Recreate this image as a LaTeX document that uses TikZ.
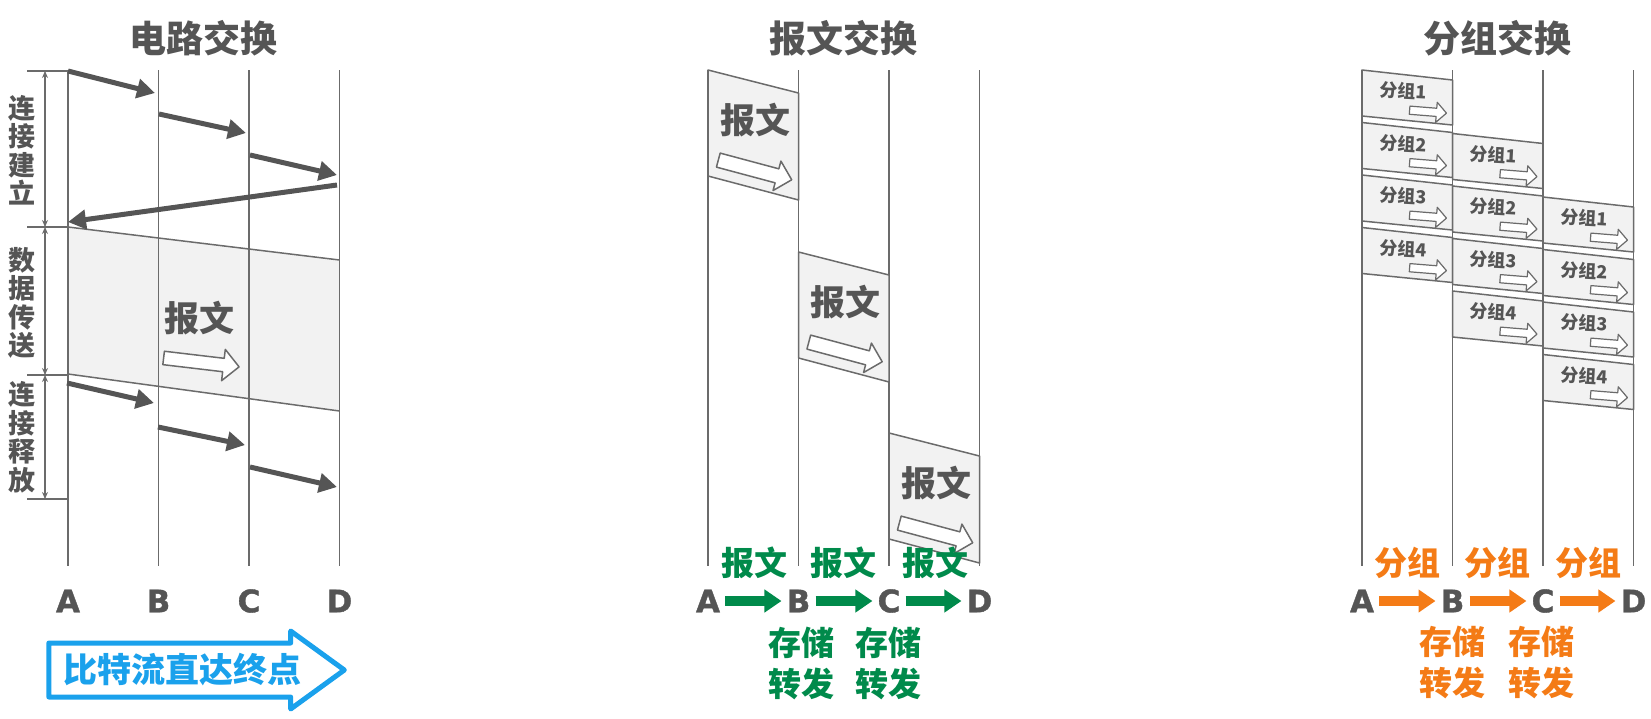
\documentclass[tikz,border=0pt]{standalone}
\usepackage{fontspec}
\setmainfont{Noto Sans CJK SC}
\newfontfamily\latinfont[BoldFeatures={FakeBold=1.2}]{DejaVu Sans}
\usetikzlibrary{arrows.meta,shapes.arrows}
\definecolor{lineGray}{HTML}{6B6B6B}
\definecolor{textGray}{HTML}{555555}
\definecolor{boxGray}{HTML}{F2F2F2}
\definecolor{storeGreen}{HTML}{008A4B}
\definecolor{packOrange}{HTML}{F47B16}
\definecolor{flowBlue}{HTML}{1AA1EC}

\begin{document}
\begin{tikzpicture}[x=1pt, y=-1pt, line join=round]
        \tikzstyle{wireLine} = [draw=lineGray, line width=1.5]
        \tikzstyle{titleText} = [font=\fontsize{37}{40}\selectfont\bfseries, text=textGray]
        \tikzstyle{stationText} = [font=\latinfont\fontsize{31}{31}\selectfont\bfseries, text=textGray, inner sep=5]
        \tikzstyle{sideText} = [font=\fontsize{27}{28.5}\selectfont\bfseries, text=textGray, align=center, inner sep=0]
        \tikzstyle{boxText} = [font=\fontsize{35}{40}\selectfont\bfseries, text=textGray]
        \tikzstyle{pktText} = [font=\fontsize{18}{20}\selectfont\bfseries, text=textGray, rotate=-3]
        \tikzstyle{greenText} = [font=\fontsize{33}{41}\selectfont\bfseries, text=storeGreen, align=center]
        \tikzstyle{orangeText} = [font=\fontsize{33}{41}\selectfont\bfseries, text=packOrange, align=center]
        \tikzstyle{sigArrow} = [draw=textGray, line width=5, -{Triangle[length=18pt,width=19pt]}]
        \tikzstyle{spanArrow} = [draw=lineGray, line width=1.3, {Stealth[length=7pt,width=6pt]}-{Stealth[length=7pt,width=6pt]}]
        \tikzstyle{greenArrow} = [draw=storeGreen, line width=10, -{Triangle[length=17pt,width=22pt]}]
        \tikzstyle{orangeArrow} = [draw=packOrange, line width=10, -{Triangle[length=17pt,width=22pt]}]
        \tikzstyle{hollowArrow} = [shape=single arrow, draw=lineGray, fill=white, line width=1.5, inner xsep=0, minimum width=0]
        \tikzstyle{msgBox} = [draw=lineGray, fill=boxGray, line width=1.5]
        \useasboundingbox (0,0) rectangle (1651,718);

        % circuit switching
        \node[titleText] (tCircuit) at (203.5,38) {电路交换};
        \fill[boxGray] (68,227) -- (339.5,260) -- (339.5,411) -- (68,374) -- cycle;
        \draw[wireLine] (68,227) -- (339.5,260);
        \draw[wireLine] (68,374) -- (339.5,411);
        \foreach \s/\x in {A/68,B/158.5,C/249,D/339.5} {
            \coordinate (cTop\s) at (\x,70);
            \coordinate (cBot\s) at (\x,566);
            \draw[wireLine] (cTop\s) -- (cBot\s);
            \node[stationText] (c\s) at (\x,601) {\s};
        }
        \coordinate (s1) at (68,71);   \coordinate (s1e) at (155,93);
        \coordinate (s2) at (159,114); \coordinate (s2e) at (246,133);
        \coordinate (s3) at (250,155); \coordinate (s3e) at (337,175);
        \coordinate (ack) at (337,185); \coordinate (acke) at (68,222);
        \coordinate (r1) at (67,383);  \coordinate (r1e) at (154,403);
        \coordinate (r2) at (158,427); \coordinate (r2e) at (245,445);
        \coordinate (r3) at (250,467); \coordinate (r3e) at (337,487);
        \foreach \from/\to in {s1/s1e,s2/s2e,s3/s3e,ack/acke,r1/r1e,r2/r2e,r3/r3e}
            \draw[sigArrow] (\from) -- (\to);
        \coordinate (k0) at (45,71);
        \coordinate (k1) at (45,227);
        \coordinate (k2) at (45,375);
        \coordinate (k3) at (45,499);
        \foreach \i in {0,...,3}
            \draw[wireLine] ([xshift=-18pt]k\i) -- ([xshift=23pt]k\i);
        \foreach \from/\to in {k0/k1,k1/k2,k2/k3}
            \draw[spanArrow] (\from) -- (\to);
        \node[sideText] (lSetup) at (22,150) {连\\接\\建\\立};
        \node[sideText] (lData) at (22,303) {数\\据\\传\\送};
        \node[sideText] (lRelease) at (22,437) {连\\接\\释\\放};
        \node[boxText] (cMsg) at (199,318) {报文};
        \node[hollowArrow, minimum height=76, inner ysep=6, single arrow head extend=9, rotate=-6.75] (cMsgArrow) at (198,362) {};
        \node[shape=single arrow, draw=flowBlue, fill=white, line width=5, minimum width=0, minimum height=295.5,
            inner xsep=0, inner ysep=24.5, single arrow head extend=12, single arrow tip angle=72] (flow) at (178,670) {};
        \node[font=\fontsize{34}{40}\selectfont\bfseries, text=flowBlue] (flowText) at (182,670) {比特流直达终点};

        % message switching
        \node[titleText] (tMessage) at (843.5,38) {报文交换};
        \foreach \s/\x in {A/708,B/798.5,C/889,D/979.5} {
            \coordinate (mTop\s) at (\x,70);
            \coordinate (mBot\s) at (\x,566);
            \draw[wireLine] (mTop\s) -- (mBot\s);
            \node[stationText] (m\s) at (\x,601) {\s};
        }
        \foreach \i/\x/\y in {1/708/70,2/798.5/252,3/889/433} {
            \draw[msgBox] (\x,\y) -- ++(90.5,23) -- ++(0,107) -- ++(-90.5,-24) -- cycle;
            \node[boxText] (msg\i) at (\x+47,\y+50) {报文};
            \node[hollowArrow, minimum height=76, inner ysep=6.5, single arrow head extend=8, rotate=-15] (msgArrow\i) at (\x+43.5,\y+99) {};
        }
        \foreach \i/\x in {1/754,2/843.5,3/935}
            \node[greenText] (mLab\i) at (\x,563) {报文};
        \foreach \from/\to in {mA/mB,mB/mC,mC/mD}
            \draw[greenArrow] (\from) -- (\to);
        \node[greenText] (mStore1) at (801,663) {存储\\转发};
        \node[greenText] (mStore2) at (888,663) {存储\\转发};

        % packet switching
        \node[titleText] (tPacket) at (1497.5,38) {分组交换};
        \foreach \s/\x in {A/1362,B/1452.5,C/1543,D/1633.5} {
            \coordinate (pTop\s) at (\x,70);
            \coordinate (pBot\s) at (\x,566);
            \node[stationText] (p\s) at (\x,601) {\s};
        }
        \foreach \n/\x in {0/1362,1/1452.5,2/1543}
            \foreach \k in {1,...,4} {
                \pgfmathsetmacro\y{70+52.5*(\k-1)+63.5*\n}
                \draw[msgBox] (\x,\y) -- ++(90.5,10) -- ++(0,45) -- ++(-90.5,-9) -- cycle;
                \node[pktText] (pkt\n\k) at (\x+41,\y+21) {分组\k};
                \node[hollowArrow, line width=1.2, minimum height=37, inner ysep=3.5, single arrow head extend=6, rotate=-4.6] (pktArrow\n\k) at (\x+64,\y+41.5) {};
            }
        \foreach \s in {A,B,C,D}
            \draw[wireLine] (pTop\s) -- (pBot\s);
        \foreach \i/\x in {1/1407,2/1497.5,3/1588}
            \node[orangeText] (pLab\i) at (\x,563) {分组};
        \foreach \from/\to in {pA/pB,pB/pC,pC/pD}
            \draw[orangeArrow] (\from) -- (\to);
        \node[orangeText] (pStore1) at (1452,662) {存储\\转发};
        \node[orangeText] (pStore2) at (1541,662) {存储\\转发};
    \end{tikzpicture}
\end{document}
